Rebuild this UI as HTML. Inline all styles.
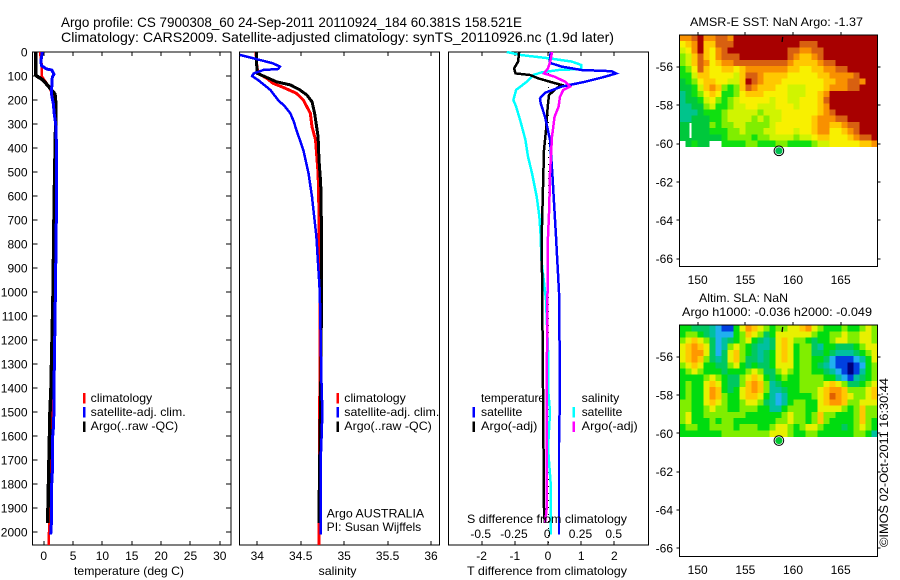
<!DOCTYPE html>
<html>
<head>
<meta charset="utf-8">
<title>Argo profile CS 7900308_60</title>
<style>
html,body{margin:0;padding:0;background:#fff;}
svg{display:block;}
text{font-family:"Liberation Sans",sans-serif;fill:#000;}
</style>
</head>
<body>
<svg id="chart" xmlns="http://www.w3.org/2000/svg" width="900" height="580" viewBox="0 0 900 580"></svg>
<script>
/* ---------- tick labels ---------- */
var depthTicks = [0,100,200,300,400,500,600,700,800,900,1000,1100,1200,1300,1400,1500,1600,1700,1800,1900,2000];
var tempTicks = [0,5,10,15,20,25,30];
var salTicks = [34,34.5,35,35.5,36];
var salTickLabels = ['34','34.5','35','35.5','36'];
var tDiffTicks = [-2,-1,0,1,2];
var sDiffTicks = [-0.5,-0.25,0,0.25,0.5];
var sDiffLabels = ['-0.5','-0.25','0','0.25','0.5'];
var lonTicks = [150,155,160,165];
var latTicks = [-56,-58,-60,-62,-64,-66];

/* ---------- temperature profiles ---------- */
var tempClimDepth = [0,50,100,130,160,220,400,800,1400,1500,1600,1700,1800,1900,2000,2054];
var tempClim = [-0.63,-0.35,-0.35,0.5,1.2,1.95,2.0,1.85,1.47,1.3,1.3,1.2,1.13,1.0,0.9,0.85];
var tempSatDepth = [0,40,57,71,75,92,105,150,180,215,260,300,400,600,1000,1400,1550,1600,1720,1800,1940,2010];
var tempSat = [-0.23,-0.5,-0.35,0.5,1.36,1.75,1.47,1.36,1.36,1.64,1.8,2.04,2.2,2.2,2.0,1.75,1.7,1.53,1.53,1.36,1.36,1.2];
var tempArgoDepth = [0,95,100,117,150,175,225,600,1000,1400,1500,1700,1900,1962];
var tempArgo = [-1.37,-1.37,-1.2,-0.1,1.05,1.9,2.1,1.8,1.6,1.25,1.07,0.9,0.73,0.7];

/* ---------- salinity profiles ---------- */
var salClimDepth = [0,62,89,110,130,151,172,200,255,311,366,505,672,1000,1400,2054];
var salClim = [33.985,33.995,34.01,34.11,34.18,34.32,34.45,34.53,34.61,34.63,34.67,34.70,34.71,34.72,34.72,34.71];
var salSatDepth = [12,26,47,61,71,75,89,100,117,158,200,228,255,290,325,408,505,603,769,1000,1400,1500,1600,1700,2010];
var salSat = [33.8,33.95,34.18,34.26,34.24,34.07,33.96,33.94,34.01,34.15,34.24,34.32,34.38,34.42,34.45,34.53,34.59,34.63,34.68,34.72,34.74,34.75,34.74,34.73,34.73];
var salArgoDepth = [0,82,89,103,124,137,158,179,207,255,353,450,547,769,1000,1400,1900,1962];
var salArgo = [33.99,33.995,34.0,34.09,34.22,34.38,34.49,34.57,34.63,34.66,34.70,34.71,34.73,34.74,34.74,34.73,34.71,34.71];

/* ---------- difference profiles ---------- */
var tDiffSatDepth = [0,45,61,75,80,89,103,124,144,170,193,214,269,366,505,769,1000,1400,1630,2010];
var tDiffSat = [0.08,0.05,0.41,1.01,1.92,2.05,1.72,1.11,0.41,-0.09,-0.24,-0.22,-0.09,0.06,0.13,0.24,0.33,0.36,0.33,0.33];
var tDiffArgoDepth = [0,40,68,89,96,110,130,137,151,179,228,325,408,500,769,1400,1900,1962];
var tDiffArgo = [-0.87,-0.9,-1.02,-0.98,-0.54,-0.29,0.21,0.41,0.26,0.03,-0.01,-0.06,-0.12,-0.14,-0.19,-0.15,-0.12,-0.1];
var sDiffSatDepth = [0,13,26,40,54,71,75,85,96,124,158,200,228,283,366,436,505,603,686,769,866,1033,1241,1400,1500,1650,1800,2010];
var sDiffSat = [-0.31,-0.2,0,0.18,0.25,0.25,0.08,-0.05,-0.11,-0.16,-0.24,-0.26,-0.24,-0.21,-0.17,-0.15,-0.12,-0.085,-0.065,-0.055,-0.05,-0.015,0,0,0.015,0,0.02,0.02];
var sDiffArgoDepth = [0,33,68,89,103,124,144,158,186,228,269,353,505,644,769,1400,1900,1960];
var sDiffArgo = [0.03,0.02,0,-0.03,0.05,0.13,0.165,0.115,0.09,0.08,0.05,0.03,0.015,0.01,0,-0.01,-0.01,-0.02];

/* ---------- SST map grid (colour-class values, null = no data) ---------- */
var n = null;
var sstGrid = [
[7,7,8,9,7,7,8,8,7,9,9,9,9,9,9,9,9,9,9,9,9,9,9,9,9,9,9,9,9,9,9,9,9],
[5,6,7,9,6,6,8,8,8,9,9,9,9,9,9,9,9,9,9,9,8,8,8,9,9,9,9,9,9,9,9,9,9],
[4,5,7,9,6,5,7,8,9,9,9,9,9,9,9,9,9,9,8,8,7,7,8,8,9,9,9,9,9,9,9,9,9],
[3,4,6,8,6,5,7,8,8,8,9,9,9,9,9,9,9,9,8,7,6,6,7,8,9,9,9,9,9,9,9,9,9],
[3,4,6,8,7,5,6,7,7,8,8,8,8,8,8,8,8,8,7,6,6,6,6,7,8,8,9,9,9,9,9,9,9],
[2,3,5,8,6,5,5,6,6,5,6,7,7,7,7,7,7,7,6,6,5,5,6,6,7,7,8,8,9,9,9,9,9],
[2,2,4,6,6,5,5,5,5,4,6,8,8,7,6,6,6,6,5,5,5,5,5,6,6,7,7,7,7,8,9,9,9],
[1,2,3,5,6,6,5,5,4,4,6,9,8,7,6,6,6,5,5,5,5,5,5,5,6,6,7,7,8,8,7,9,9],
[1,1,2,4,6,7,6,3,2,3,6,8,7,6,6,6,5,5,4,4,4,5,5,5,6,7,7,7,8,8,9,9,9],
[0,1,2,3,5,6,5,2,2,3,5,6,6,6,5,5,5,5,4,4,4,5,5,6,7,9,9,9,9,9,9,9,9],
[0,1,1,2,4,5,3,2,3,4,5,5,5,5,5,4,5,5,4,4,5,5,5,6,8,9,9,9,9,9,9,9,9],
[0,0,1,1,3,4,2,2,3,4,4,5,5,4,4,4,5,5,5,4,5,5,5,6,7,9,9,9,9,9,9,9,9],
[0,0,0,1,2,2,2,3,4,4,4,4,4,3,4,4,4,5,5,5,5,5,5,6,7,8,9,9,9,9,9,9,9],
[0,0,1,1,1,2,2,3,4,4,4,4,3,4,3,4,4,5,5,5,5,5,6,7,7,7,8,8,9,9,9,9,9],
[1,1,1,1,1,3,2,3,3,4,4,3,3,3,3,4,5,5,5,5,5,5,6,7,7,6,6,7,8,8,9,9,9],
[1,1,1,1,1,2,2,2,3,3,4,3,3,3,4,4,5,5,5,4,5,5,6,7,7,5,5,6,7,8,9,9,9],
[1,1,1,1,1,1,1,2,3,3,3,3,2,3,3,4,4,4,4,3,4,4,5,6,6,5,5,5,6,7,8,8,9],
[n,1,2,1,1,n,n,2,2,2,2,3,3,2,2,2,3,3,2,2,2,2,3,4,4,5,5,5,5,5,6,6,7]
];
/* narrow no-data sliver in the SST field */
var sstGapLon = [149.15,149.35];
var sstGapLat = [-58.92,-59.72];

/* ---------- SLA map grid (colour-class values) ---------- */
var slaGrid = [
[5,5,4,4,4,3,2,1,1,5,7,9,8,7,6,5,6,6,7,7,8,9,7,6,5,5,5,6,5,5,6,7,6],
[5,6,6,5,4,3,2,2,2,5,6,8,7,6,4,5,7,7,7,7,7,7,6,5,5,6,6,7,6,6,7,7,6],
[6,7,8,7,6,4,2,3,4,5,6,7,5,4,3,4,7,8,7,6,6,5,4,5,5,6,7,7,6,6,7,7,6],
[7,8,9,8,7,4,2,3,6,7,6,5,4,3,3,4,7,8,7,5,6,6,4,3,5,5,4,4,4,5,6,7,7],
[7,8,9,9,7,4,2,4,7,8,6,5,4,3,4,5,7,8,7,5,6,6,4,4,5,4,3,3,3,4,5,6,7],
[7,8,9,8,6,4,3,4,7,8,6,4,4,3,4,5,7,8,7,5,6,6,5,5,4,2,1,1,1,2,3,5,7],
[6,7,8,7,5,5,4,4,6,7,5,4,5,4,4,5,7,7,7,5,6,6,5,4,3,2,1,1,0,1,2,5,6],
[5,6,7,6,5,5,5,4,5,5,5,6,7,6,4,4,6,7,6,5,6,6,5,5,4,3,2,1,0,1,3,5,6],
[5,5,5,5,6,7,6,5,4,4,6,7,8,7,5,4,5,6,5,5,6,6,6,6,5,5,3,2,1,3,4,5,6],
[5,6,5,5,7,8,7,5,4,4,6,8,9,8,6,3,4,5,5,5,6,6,6,6,7,8,7,6,4,4,5,6,7],
[5,6,5,5,7,9,8,5,4,5,7,8,9,8,6,3,3,4,5,5,6,6,6,7,8,9,9,8,6,6,6,7,8],
[5,6,5,5,7,9,8,6,5,5,7,8,8,7,5,3,2,3,5,5,5,5,6,7,8,10,9,8,7,6,6,7,8],
[6,6,5,5,7,8,7,6,5,5,6,7,7,6,4,3,2,3,5,6,6,5,5,7,8,9,9,8,6,6,7,7,7],
[6,6,5,5,6,7,6,6,5,5,6,6,6,5,5,3,3,5,6,6,6,5,5,7,7,7,7,6,5,6,8,6,6],
[6,7,5,5,6,6,6,6,6,6,6,5,5,5,5,5,5,6,7,6,6,5,6,8,6,6,5,5,5,6,8,6,6],
[6,7,5,5,5,6,5,6,6,5,5,5,5,5,5,5,6,6,7,6,6,5,6,8,6,5,5,5,5,6,8,6,5],
[5,6,6,5,5,6,6,6,6,5,6,6,6,5,5,6,7,7,6,5,6,7,7,6,5,5,5,4,5,6,7,6,5],
[5,5,5,5,5,5,5,6,6,6,6,6,6,6,6,7,7,7,6,5,5,6,6,5,5,5,5,5,5,6,6,5,3]
];
var floatLon = [158.521];
var floatLat = [-60.381];
var trackLon = [158.92,158.85];
var trackLat = [-54.45,-54.71];

/* ---------- colour tables ---------- */
var sstPalette = ['#00c48c','#00c83c','#10e010','#80ee00','#d0f400','#f8f000','#ffc800','#f89000','#d86010','#a80000'];
var slaPalette = ['#00007c','#0040e0','#20b0f0','#00c0a0','#00c860','#00dc10','#80ee00','#e8f000','#ffc800','#ff9800','#e06000'];

/* ---------- axis functions ---------- */
var SVGNS = 'http://www.w3.org/2000/svg';
var root = document.getElementById('chart');
function depthY(d){ return 52 + 0.24*d; }
function tempX(t){ return 43.7 + 5.87*t; }
function salX(s){ return 257.3 + 86.85*(s-34); }
function tDiffX(t){ return 548 + 33.2*t; }
function sDiffX(s){ return 548 + 133*s; }
function lonX(l){ return 697.7 + 9.53*(l-150); }
function map1Y(l){ return 66.7 + 19.2*(-56-l); }
function map2Y(l){ return 356.7 + 19.15*(-56-l); }

function makeGroup(name){
  var g = document.createElementNS(SVGNS,'g');
  
  
  root.appendChild(g);
  return g;
}
function addText(parent,name,str,x,y,anchor,size,width,rot){
  var el = document.createElementNS(SVGNS,'text');
  
  
  el.setAttribute('x',x);
  el.setAttribute('y',y);
  el.setAttribute('text-anchor',anchor||'start');
  el.setAttribute('font-size',size||12);
  if(width){ el.setAttribute('textLength',width); el.setAttribute('lengthAdjust','spacingAndGlyphs'); }
  if(rot){ el.setAttribute('transform','rotate('+rot+' '+x+' '+y+')'); }
  el.textContent = str;
  parent.appendChild(el);
  return el;
}
function addLine(parent,name,x1,y1,x2,y2){
  var el = document.createElementNS(SVGNS,'line');
  
  
  el.setAttribute('x1',x1); el.setAttribute('y1',y1);
  el.setAttribute('x2',x2); el.setAttribute('y2',y2);
  el.setAttribute('stroke','#000');
  el.setAttribute('stroke-width',1);
  el.setAttribute('shape-rendering','crispEdges');
  parent.appendChild(el);
  return el;
}
function addFrame(parent,name,x,y,w,h){
  var el = document.createElementNS(SVGNS,'rect');
  
  
  el.setAttribute('x',x); el.setAttribute('y',y);
  el.setAttribute('width',w); el.setAttribute('height',h);
  el.setAttribute('fill','none');
  el.setAttribute('stroke','#000');
  el.setAttribute('stroke-width',1);
  el.setAttribute('shape-rendering','crispEdges');
  parent.appendChild(el);
  return el;
}
function addProfile(parent,name,depths,vals,xf,color,w){
  var pts = [];
  for(var i=0;i<vals.length;i++){ pts.push(xf(vals[i]).toFixed(1)+','+depthY(depths[i]).toFixed(1)); }
  var el = document.createElementNS(SVGNS,'polyline');
  
  
  el.setAttribute('points',pts.join(' '));
  el.setAttribute('fill','none');
  el.setAttribute('stroke',color);
  el.setAttribute('stroke-width',w);
  el.setAttribute('shape-rendering','crispEdges');
  parent.appendChild(el);
  return el;
}
function addBar(parent,name,x,y,color){
  var el = document.createElementNS(SVGNS,'rect');
  
  
  el.setAttribute('x',x); el.setAttribute('y',y);
  el.setAttribute('width',2.5); el.setAttribute('height',10.5);
  el.setAttribute('fill',color);
  el.setAttribute('shape-rendering','crispEdges');
  parent.appendChild(el);
  return el;
}

/* ---------- titles ---------- */
var titles = makeGroup('figure-title');
addText(titles,'title-line-1','Argo profile: CS 7900308_60 24-Sep-2011 20110924_184 60.381S 158.521E',61,27,'start',14,461);
addText(titles,'title-line-2','Climatology: CARS2009. Satellite-adjusted climatology: synTS_20110926.nc (1.9d later)',61,42,'start',14,553);

/* ---------- profile panels ---------- */
var FT = 52, FB = 545;
function panelAxes(g,left,right,xf,ticks,tickText,prefix){
  addFrame(g,prefix+'-frame',left,FT,right-left,FB-FT);
  for(var i=0;i<ticks.length;i++){
    var x = Math.round(xf(ticks[i]));
    addLine(g,prefix+'-top-tick',x,FT,x,FT+4);
    addLine(g,prefix+'-bottom-tick',x,FB-4,x,FB);
    if(tickText){ addText(g,prefix+'-tick-label',tickText[i],xf(ticks[i]),560,'middle',12); }
  }
}

/* temperature panel */
var p1 = makeGroup('temperature-panel');
panelAxes(p1,32.5,231,tempX,tempTicks,tempTicks,'temperature-axis');
for(var i=0;i<depthTicks.length;i++){
  var yy = Math.round(depthY(depthTicks[i]));
  addLine(p1,'depth-tick-left',32.5,yy,37.5,yy);
  addLine(p1,'depth-tick-right',226,yy,231,yy);
  addText(p1,'depth-tick-label',String(depthTicks[i]),27.5,depthY(depthTicks[i])+4.5,'end',12);
}
addText(p1,'temperature-axis-title','temperature (deg C)',74,575,'start',12,110);
addProfile(p1,'temperature-climatology-line',tempClimDepth,tempClim,tempX,'#f00',2.5);
addProfile(p1,'temperature-argo-line',tempArgoDepth,tempArgo,tempX,'#000',3.5);
addProfile(p1,'temperature-satellite-line',tempSatDepth,tempSat,tempX,'#00f',3);
addBar(p1,'legend-swatch-climatology',83,393,'#f00');
addText(p1,'legend-climatology','climatology',90.7,402,'start',12,61.5);
addBar(p1,'legend-swatch-satellite',83,407,'#00f');
addText(p1,'legend-satellite','satellite-adj. clim.',90.7,416,'start',12,95);
addBar(p1,'legend-swatch-argo',83,421.5,'#000');
addText(p1,'legend-argo','Argo(..raw -QC)',90.7,430,'start',12,87.5);

/* salinity panel */
var p2 = makeGroup('salinity-panel');
panelAxes(p2,239.5,439.5,salX,salTicks,salTickLabels,'salinity-axis');
addText(p2,'salinity-axis-title','salinity',318.5,575,'start',12,38);
addProfile(p2,'salinity-climatology-line',salClimDepth,salClim,salX,'#f00',3);
addProfile(p2,'salinity-argo-line',salArgoDepth,salArgo,salX,'#000',3);
addProfile(p2,'salinity-satellite-line',salSatDepth,salSat,salX,'#00f',2.5);
addBar(p2,'legend-swatch-climatology',336.5,393,'#f00');
addText(p2,'legend-climatology','climatology',344.3,402,'start',12,61.5);
addBar(p2,'legend-swatch-satellite',336.5,407,'#00f');
addText(p2,'legend-satellite','satellite-adj. clim.',344.3,416,'start',12,95);
addBar(p2,'legend-swatch-argo',336.5,421.5,'#000');
addText(p2,'legend-argo','Argo(..raw -QC)',344.3,430,'start',12,87.5);
addText(p2,'float-country-label','Argo AUSTRALIA',326.7,517.3,'start',12,97.5);
addText(p2,'float-pi-label','PI: Susan Wijffels',326.7,531,'start',12,94.5);

/* difference panel */
var p3 = makeGroup('difference-panel');
panelAxes(p3,448.5,648.5,tDiffX,tDiffTicks,tDiffTicks,'t-difference-axis');
addText(p3,'t-difference-axis-title','T difference from climatology',467,575,'start',12,160);
var zeroLine = addLine(p3,'zero-difference-line',548.5,FT,548.5,FB);
zeroLine.setAttribute('stroke-dasharray','1 6');
addProfile(p3,'salinity-diff-satellite-line',sDiffSatDepth,sDiffSat,sDiffX,'#0ff',2.5);
addProfile(p3,'temperature-diff-argo-line',tDiffArgoDepth,tDiffArgo,tDiffX,'#000',2.5);
addProfile(p3,'temperature-diff-satellite-line',tDiffSatDepth,tDiffSat,tDiffX,'#00f',2.5);
addProfile(p3,'salinity-diff-argo-line',sDiffArgoDepth,sDiffArgo,sDiffX,'#f0f',2.5);
for(var j=0;j<sDiffTicks.length;j++){
  addText(p3,'s-difference-tick-label',sDiffLabels[j],sDiffX(sDiffTicks[j])-0.8,538,'middle',12);
}
addText(p3,'s-difference-axis-title','S difference from climatology',467,523,'start',12,160);
addText(p3,'legend-temperature-heading','temperature',481,402,'start',12,64);
addBar(p3,'legend-swatch-t-satellite',472.7,407,'#00f');
addText(p3,'legend-t-satellite','satellite',481,416,'start',12,41.3);
addBar(p3,'legend-swatch-t-argo',472.7,421.5,'#000');
addText(p3,'legend-t-argo','Argo(-adj)',481,430,'start',12,56.3);
addText(p3,'legend-salinity-heading','salinity',581.7,402,'start',12,37.6);
addBar(p3,'legend-swatch-s-satellite',572.7,407,'#0ff');
addText(p3,'legend-s-satellite','satellite',581.7,416,'start',12,40.6);
addBar(p3,'legend-swatch-s-argo',572.7,421.5,'#f0f');
addText(p3,'legend-s-argo','Argo(-adj)',581.7,430,'start',12,56);

/* ---------- map panels ---------- */
var LON0 = 148.07, LONSTEP = 0.63, LAT0 = -54.35, LATSTEP = 0.3233;
function drawMap(name,grid,palette,yf,top,bottom,markerColor){
  var g = makeGroup(name);
  var cells = document.createElementNS(SVGNS,'g');
  
  
  g.appendChild(cells);
  for(var r=0;r<grid.length;r++){
    for(var c=0;c<grid[r].length;c++){
      if(grid[r][c]===null){ continue; }
      var x0 = lonX(LON0+c*LONSTEP), x1 = lonX(LON0+(c+1)*LONSTEP);
      var y0 = yf(LAT0-r*LATSTEP), y1 = yf(LAT0-(r+1)*LATSTEP);
      var cell = document.createElementNS(SVGNS,'rect');
      
      
      cell.setAttribute('x',x0.toFixed(2));
      cell.setAttribute('y',y0.toFixed(2));
      cell.setAttribute('width',(x1-x0+0.4).toFixed(2));
      cell.setAttribute('height',(y1-y0+0.4).toFixed(2));
      cell.setAttribute('fill',palette[grid[r][c]]);
      cell.setAttribute('shape-rendering','crispEdges');
      cells.appendChild(cell);
    }
  }
  var L = 679.5, R = 877.5;
  addFrame(g,name+'-frame',L,top,R-L,bottom-top);
  for(var i=0;i<lonTicks.length;i++){
    var lx = Math.round(lonX(lonTicks[i]));
    addLine(g,name+'-lon-tick',lx,top-3,lx,top);
    addText(g,name+'-lon-label',String(lonTicks[i]),lonX(lonTicks[i]),bottom+17.5,'middle',12);
  }
  for(var k=0;k<latTicks.length;k++){
    var ly = Math.round(yf(latTicks[k]));
    addLine(g,name+'-lat-tick-left',L-3,ly,L,ly);
    addLine(g,name+'-lat-tick-right',R,ly,R+3,ly);
    addText(g,name+'-lat-label',String(latTicks[k]),673,yf(latTicks[k])+4.5,'end',12);
  }
  var track = document.createElementNS(SVGNS,'line');
  
  
  track.setAttribute('x1',lonX(trackLon[0])); track.setAttribute('y1',yf(trackLat[0]));
  track.setAttribute('x2',lonX(trackLon[1])); track.setAttribute('y2',yf(trackLat[1]));
  track.setAttribute('stroke','#000');
  track.setAttribute('stroke-width',1.3);
  g.appendChild(track);
  var ring = document.createElementNS(SVGNS,'circle');
  
  
  ring.setAttribute('cx',lonX(floatLon[0])); ring.setAttribute('cy',yf(floatLat[0]));
  ring.setAttribute('r',4.8);
  ring.setAttribute('fill','#fff');
  ring.setAttribute('stroke','#000');
  ring.setAttribute('stroke-width',1);
  g.appendChild(ring);
  var dot = document.createElementNS(SVGNS,'circle');
  
  
  dot.setAttribute('cx',lonX(floatLon[0])); dot.setAttribute('cy',yf(floatLat[0]));
  dot.setAttribute('r',3.6);
  dot.setAttribute('fill',markerColor);
  g.appendChild(dot);
  return g;
}
var m1 = drawMap('sst-map',sstGrid,sstPalette,map1Y,35,266.5,'#00c050');
var gap = document.createElementNS(SVGNS,'rect');


gap.setAttribute('x',lonX(sstGapLon[0]));
gap.setAttribute('y',map1Y(sstGapLat[0]));
gap.setAttribute('width',lonX(sstGapLon[1])-lonX(sstGapLon[0]));
gap.setAttribute('height',map1Y(sstGapLat[1])-map1Y(sstGapLat[0]));
gap.setAttribute('fill','#fff');
gap.setAttribute('shape-rendering','crispEdges');
m1.appendChild(gap);
addText(m1,'sst-map-title','AMSR-E SST: NaN Argo: -1.37',690,26,'start',12,173);
var m2 = drawMap('sla-map',slaGrid,slaPalette,map2Y,325,556.5,'#00c830');
addText(m2,'sla-map-title-line-1','Altim. SLA: NaN',699,302,'start',12,89);
addText(m2,'sla-map-title-line-2','Argo h1000: -0.036 h2000: -0.049',682,316,'start',12,190);

var stamp = makeGroup('timestamp');
addText(stamp,'imos-timestamp','©IMOS 02-Oct-2011 16:30:44',888,547,'start',12,169,-90);
</script>
</body>
</html>
